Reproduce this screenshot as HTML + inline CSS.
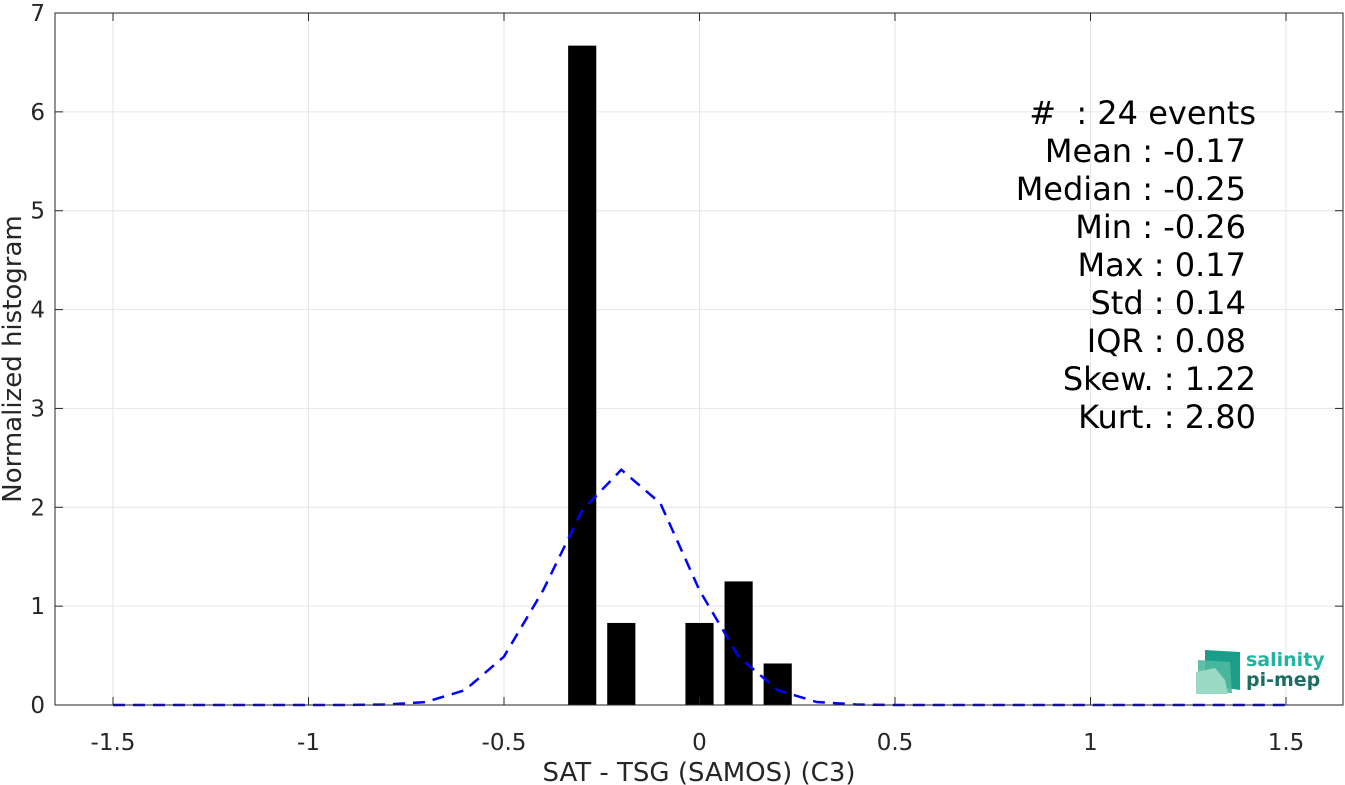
<!DOCTYPE html>
<html><head><meta charset="utf-8"><style>
body{margin:0;background:#fff;}
svg{display:block;font-family:"DejaVu Sans","Liberation Sans",sans-serif;}
text{white-space:pre;}
</style></head><body>
<svg id="chart" width="1345" height="785">
<g id="grid"></g>
<g id="bars"></g>
<g id="curve"></g>
<g id="axes"></g>
<text x="699" y="781" font-size="26" fill="#262626" text-anchor="middle">SAT - TSG (SAMOS) (C3)</text>
<text transform="translate(21,359) rotate(-90)" font-size="26" fill="#262626" text-anchor="middle">Normalized histogram</text>
<g font-size="32" fill="#000" text-anchor="end">
<text x="1256" y="124">#  : 24 events</text>
<text x="1246" y="162">Mean : -0.17</text>
<text x="1246" y="200">Median : -0.25</text>
<text x="1246" y="238">Min : -0.26</text>
<text x="1246" y="276">Max : 0.17</text>
<text x="1246" y="314">Std : 0.14</text>
<text x="1246" y="352">IQR : 0.08</text>
<text x="1256" y="390">Skew. : 1.22</text>
<text x="1256" y="428">Kurt. : 2.80</text>
</g>
<g>
<polygon points="1205,650 1240,652 1240,690 1205,685" fill="#1a9e8a"/>
<polygon points="1198,660 1230,662 1232,693 1198,692" fill="#4fb9a0" opacity="0.9"/>
<polygon points="1196,672 1215,668 1225,680 1228,694 1196,694" fill="#9ad9c4"/>
<text x="1246" y="666" font-size="19" font-weight="bold" fill="#22b3a0">salinity</text>
<text x="1246" y="686" font-size="19" font-weight="bold" fill="#1c6e63">pi-mep</text>
</g>
</svg>
<script>
const binCenters=[-0.3,-0.2,0,0.1,0.2];
const binValues=[6.67,0.83,0.83,1.25,0.42];
const fitX=[-1.5,-1.4,-1.3,-1.2,-1.1,-1,-0.9,-0.8,-0.7,-0.6,-0.5,-0.4,-0.3,-0.2,-0.1,0,0.1,0.2,0.3,0.4,0.5,0.6,0.7,0.8,0.9,1,1.1,1.2,1.3,1.4,1.5];
const fitY=[0,0,0,0,0,0,0,0.005,0.03,0.15,0.49,1.16,1.97,2.38,2.04,1.16,0.49,0.15,0.03,0.005,0,0,0,0,0,0,0,0,0,0,0];
const xTicks=[-1.5,-1,-0.5,0,0.5,1,1.5];
const xTickLabels=["-1.5","-1","-0.5","0","0.5","1","1.5"];
const yTicks=[0,1,2,3,4,5,6,7];
const yTickLabels=["0","1","2","3","4","5","6","7"];
const barWidth=0.072;
const L=55,R=1343,T=13,B=705;
const X=v=>699.5+v*391;
const Y=v=>B-v*(B-T)/7;
const NS="http://www.w3.org/2000/svg";
function mk(tag,attrs,parent){const e=document.createElementNS(NS,tag);for(const k in attrs)e.setAttribute(k,attrs[k]);parent.appendChild(e);return e;}
const grid=document.getElementById('grid'),axes=document.getElementById('axes'),bars=document.getElementById('bars'),curve=document.getElementById('curve');
xTicks.forEach((t,i)=>{
 const g=mk('line',{x1:X(t),x2:X(t),y1:T,y2:B,stroke:'#e6e6e6','stroke-width':1},grid);
 
 
 mk('line',{x1:X(t),x2:X(t),y1:B,y2:B-8,stroke:'#262626'},axes);
 mk('line',{x1:X(t),x2:X(t),y1:T,y2:T+8,stroke:'#262626'},axes);
 const lb=mk('text',{x:X(t),y:B+45,'font-size':23,fill:'#262626','text-anchor':'middle'},axes);
 lb.textContent=xTickLabels[i];
 
 
});
yTicks.forEach((t,i)=>{
 const g=mk('line',{x1:L,x2:R,y1:Y(t),y2:Y(t),stroke:'#e6e6e6','stroke-width':1},grid);
 
 
 mk('line',{x1:L,x2:L+8,y1:Y(t),y2:Y(t),stroke:'#262626'},axes);
 mk('line',{x1:R,x2:R-8,y1:Y(t),y2:Y(t),stroke:'#262626'},axes);
 const lb=mk('text',{x:L-10,y:Y(t)+8,'font-size':23,fill:'#262626','text-anchor':'end'},axes);
 lb.textContent=yTickLabels[i];
 
 
});
mk('rect',{x:L,y:T,width:R-L,height:B-T,fill:'none',stroke:'#262626','stroke-width':1},axes);
binCenters.forEach((c,i)=>{
 const r=mk('rect',{x:X(c-barWidth/2),y:Y(binValues[i]),width:X(c+barWidth/2)-X(c-barWidth/2),height:B-Y(binValues[i]),fill:'#000'},bars);
 
 
});
const p=mk('polyline',{points:fitX.map((x,i)=>X(x)+','+Y(fitY[i])).join(' '),fill:'none',stroke:'#0000ff','stroke-width':2.5,'stroke-dasharray':'12,8'},curve);


</script>
</body></html>
